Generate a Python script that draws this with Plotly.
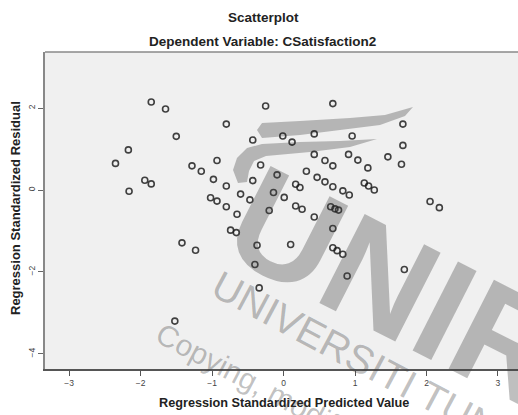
import plotly.graph_objects as go

# Regression residual diagnostics: standardized predicted value vs standardized residual
pred_z = [
    -1.85, -1.65, -1.50, -2.17, -2.35, -1.28, -1.15, -0.93, -0.98, -1.94,
    -1.85, -2.16, -1.02, -0.93, -0.80, -0.60, -0.47, -0.43, -0.43, -0.80,
    -0.65, -0.74, -0.66, -1.42, -1.23, -0.37, -0.40, -0.25, 0.69, -0.80,
    -0.01, 0.12, 0.43, 0.96, -0.32, 0.43, 0.58, 0.69, 0.91, 1.04,
    1.18, -0.09, 0.32, 0.47, 0.58, 0.17, 0.23, 0.69, 0.83, 0.92,
    1.13, 1.19, 1.27, -0.14, 0.01, 1.67, 1.46, 1.65, -0.20, 0.17,
    0.26, 0.66, 0.72, 0.77, 0.43, 2.05, 2.18, 0.69, 0.10, 0.69,
    0.75, 0.83, 1.69, 0.89, -0.34, -1.52, 1.67,
]
resid_z = [
    2.15, 1.98, 1.31, 0.98, 0.65, 0.59, 0.46, 0.72, 0.26, 0.24,
    0.15, -0.03, -0.19, -0.27, 0.10, -0.10, -0.24, 1.22, 0.23, -0.41,
    -0.59, -0.98, -1.04, -1.29, -1.47, -1.35, -1.82, 2.05, 2.11, 1.61,
    1.32, 1.17, 1.37, 1.32, 0.61, 0.87, 0.72, 0.59, 0.87, 0.73,
    0.54, 0.37, 0.46, 0.31, 0.20, 0.14, 0.06, 0.08, -0.02, -0.12,
    0.17, 0.10, 0.00, -0.06, -0.18, 1.09, 0.81, 0.63, -0.50, -0.39,
    -0.47, -0.41, -0.46, -0.49, -0.66, -0.28, -0.43, -0.94, -1.33, -1.41,
    -1.48, -1.57, -1.94, -2.10, -2.39, -3.20, 1.61,
]
x_ticks = [-3, -2, -1, 0, 1, 2, 3]
y_ticks = [-4, -2, 0, 2]

title_text = "Scatterplot"
subtitle_text = "Dependent Variable: CSatisfaction2"
x_title = "Regression Standardized Predicted Value"
y_title = "Regression Standardized Residual"

FONT = "Liberation Sans, Arial, sans-serif"
W, H = 518, 415
L, R, T, B = 45, 518, 52, 369          # plot area edges in pixels


def px_x(px):
    return (px - L) / (R - L)


def px_y(py):
    return (B - py) / (B - T)


fig = go.Figure()
fig.add_trace(go.Scatter(
    x=pred_z, y=resid_z, mode="markers",
    marker=dict(symbol="circle-open", size=6,
                color="rgba(25,25,25,0.82)", line=dict(width=1.6)),
    hoverinfo="x+y", showlegend=False,
))

wm = "rgba(60,60,60,0.33)"

# repository logo swooshes
band1 = [(257, 130), (262, 123), (300, 121), (350, 118), (385, 115), (413, 107),
         (405, 116), (380, 125), (340, 130), (300, 135), (262, 138)]
band2 = [(238, 183), (233, 170), (237, 158), (247, 148), (262, 144), (300, 142),
         (340, 141), (377, 139), (350, 147), (310, 152), (266, 156), (254, 161),
         (249, 171), (247, 182)]


def path_of(pts):
    return "M " + " L ".join(f"{px_x(a):.4f},{px_y(b):.4f}" for a, b in pts) + " Z"


shapes = [
    dict(type="path", xref="paper", yref="paper", path=path_of(band1),
         fillcolor=wm, line=dict(width=0), layer="below"),
    dict(type="path", xref="paper", yref="paper", path=path_of(band2),
         fillcolor=wm, line=dict(width=0), layer="below"),
    # top frame line
    dict(type="line", xref="paper", yref="paper", x0=0, x1=1, y0=1, y1=1,
         line=dict(color="#8a8a8a", width=1.5)),
]

annotations = [
    dict(text="<b>" + title_text + "</b>", x=px_x(263), y=px_y(17),
         font=dict(size=13.5, color="#222", family=FONT)),
    dict(text="<b>" + subtitle_text + "</b>", x=px_x(262), y=px_y(42),
         font=dict(size=13.5, color="#222", family=FONT)),
    dict(text="<b>" + x_title + "</b>", x=px_x(284), y=px_y(403),
         font=dict(size=12.7, color="#222", family=FONT)),
    dict(text="<b>" + y_title + "</b>", x=px_x(15), y=px_y(208), textangle=-90,
         font=dict(size=13, color="#222", family=FONT)),
    # watermark
    dict(text="<b>UNIRAZAK</b>", x=px_x(577), y=px_y(378), textangle=27,
         font=dict(size=145, color=wm, family=FONT)),
    dict(text="UNIVERSITI TUN ABDUL RAZAK", x=px_x(481), y=px_y(423), textangle=28,
         font=dict(size=40, color=wm, family=FONT)),
    dict(text="Copying, modification", x=px_x(285), y=px_y(398), textangle=28,
         font=dict(size=30, color=wm, family=FONT)),
]
for a in annotations:
    a.update(xref="paper", yref="paper", showarrow=False,
             xanchor="center", yanchor="middle")

fig.update_layout(
    width=W, height=H,
    margin=dict(l=L, r=W - R, t=T, b=H - B, pad=0),
    paper_bgcolor="white", plot_bgcolor="#f0f0f0",
    font=dict(family=FONT),
    shapes=shapes, annotations=annotations,
    xaxis=dict(range=[-3.336, 3.280], tickvals=x_ticks, ticks="outside",
               ticklen=5, tickwidth=1, tickcolor="#555", showgrid=False,
               zeroline=False, showline=True, linecolor="#555", linewidth=2,
               tickfont=dict(size=8.5, color="#444", family=FONT)),
    yaxis=dict(range=[-4.37, 3.37], tickvals=y_ticks, ticks="outside",
               ticklen=5, tickwidth=1, tickcolor="#666", showgrid=False,
               zeroline=False, showline=True, linecolor="#888", linewidth=1.5,
               tickangle=-90,
               tickfont=dict(size=8.5, color="#444", family=FONT)),
)

fig.write_html("out.html")
